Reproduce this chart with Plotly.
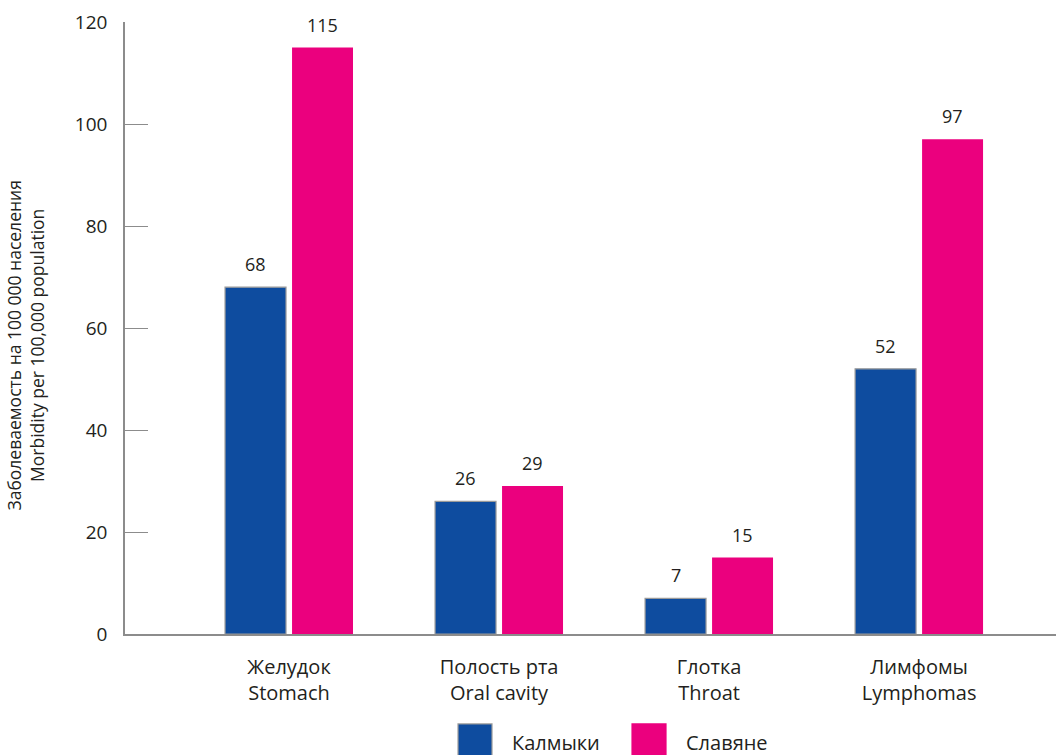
import plotly.graph_objects as go

categories = ["Желудок<br>Stomach", "Полость рта<br>Oral cavity", "Глотка<br>Throat", "Лимфомы<br>Lymphomas"]
series_names = ["Калмыки", "Славяне"]
kalmyki = [68, 26, 7, 52]
slavyane = [115, 29, 15, 97]
y_ticks = [0, 20, 40, 60, 80, 100, 120]

BLUE = "#0e4c9f"
PINK = "#eb007e"
GREY = "#8c8c8c"
TXT = "#231f20"
FONT = "Open Sans"

fig = go.Figure()
fig.add_trace(go.Bar(x=categories, y=kalmyki, name=series_names[0],
                     marker=dict(color=BLUE, line=dict(color="#9a9a9a", width=1.2)),
                     showlegend=False))
fig.add_trace(go.Bar(x=categories, y=slavyane, name=series_names[1],
                     marker=dict(color=PINK, line=dict(width=0)),
                     showlegend=False))

# value labels
for vals, shift in ((kalmyki, -33.5), (slavyane, 33.5)):
    for c, v in zip(categories, vals):
        fig.add_annotation(x=c, y=v, xref="x", yref="y", text=str(v), showarrow=False,
                           xshift=shift, yshift=23, yanchor="middle",
                           font=dict(family=FONT, size=18, color=TXT))

# y title
fig.add_annotation(x=-0.107, y=0.472, xref="paper", yref="paper", textangle=-90,
                   xanchor="center", yanchor="middle",
                   text="Заболеваемость на 100 000 населения<br>Morbidity per 100,000 population",
                   showarrow=False, font=dict(family=FONT, size=17.5, color=TXT))

# legend drawn manually (large swatches)
legend_items = [(series_names[0], BLUE, 0.3577, "#9a9a9a"), (series_names[1], PINK, 0.5446, PINK)]
for name, col, x0, lc in legend_items:
    fig.add_shape(type="rect", xref="paper", yref="paper", x0=x0, x1=x0 + 0.0365,
                  y0=-0.205, y1=-0.147, fillcolor=col, line=dict(color=lc, width=1.2))
    fig.add_annotation(x=x0 + 0.0555, y=-0.178, xref="paper", yref="paper", text=name,
                       showarrow=False, xanchor="left", yanchor="middle",
                       font=dict(family=FONT, size=20, color=TXT))

fig.update_layout(
    width=1056, height=755,
    margin=dict(l=125, r=0, t=22, b=121),
    paper_bgcolor="white", plot_bgcolor="white",
    barmode="group", bargap=0.362, bargroupgap=0.09,
    font=dict(family=FONT, size=18, color=TXT),
    showlegend=False,
)
fig.update_xaxes(range=[-0.781, 3.652], showline=True, linecolor=GREY, linewidth=1.5,
                 ticks="", showgrid=False, zeroline=False,
                 tickfont=dict(family=FONT, size=20, color=TXT), ticklabelstandoff=14)
fig.update_yaxes(range=[0, 120], tickvals=y_ticks, showline=True, linecolor=GREY, linewidth=1.5,
                 ticks="inside", ticklen=23, tickcolor=GREY, tickwidth=1.2,
                 showgrid=False, zeroline=False, ticklabelstandoff=12,
                 tickfont=dict(family=FONT, size=19, color=TXT))

fig.write_html("out.html")
